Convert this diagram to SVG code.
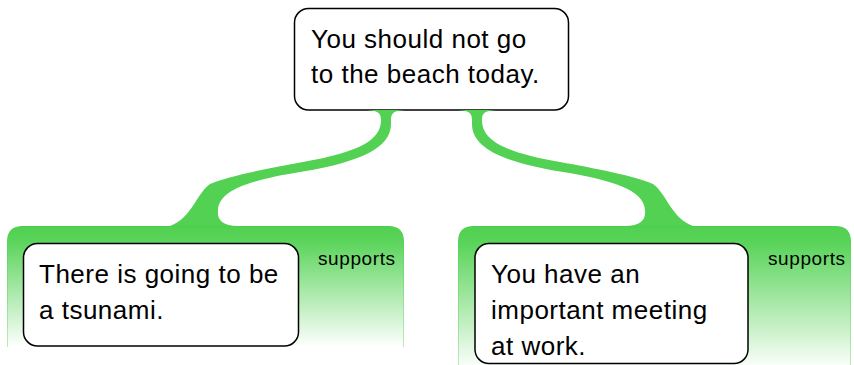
<svg xmlns="http://www.w3.org/2000/svg" width="854" height="365" viewBox="0 0 854 365">
  <defs>
    <linearGradient id="bandL" x1="0" y1="0" x2="0" y2="1">
      <stop offset="0" stop-color="#50d050"/>
      <stop offset="0.12" stop-color="#5ad45a"/>
      <stop offset="1" stop-color="#ffffff"/>
    </linearGradient>
    <linearGradient id="edge" x1="0" y1="0" x2="0" y2="1">
      <stop offset="0" stop-color="#4cce4c"/>
      <stop offset="1" stop-color="#bfeabf"/>
    </linearGradient>
    <path id="conn" d="M361,110 C377,110 381,112 381,120 C381,140 360,152 303,162 C270,168 228,176 210,184 C196,194 192,218 170,226 L238,226 C222,226 217,220 218,210 C219,190 250,180 303,171.5 C360,162 391,148 391,124 L391,120 C391,112 395,110 410,110 Z"/>
  </defs>
  <style>
    .box { fill: #ffffff; stroke: #000000; stroke-width: 1.5; }
    .band { fill: url(#bandL); stroke: url(#edge); stroke-width: 1; }
    .txt { font-family: "Liberation Sans", Arial, sans-serif; font-size: 26px; letter-spacing: 0.5px; fill: #000000; }
    .lbl { font-family: "Liberation Sans", Arial, sans-serif; font-size: 19px; letter-spacing: 0.6px; fill: #000000; }
    .conn { fill: #52d152; }
  </style>

  <g id="band-left">
    <path class="band" d="M7.5,347 L7.5,241 Q7.5,226.5 22,226.5 L389,226.5 Q403.5,226.5 403.5,241 L403.5,347"/>
    <text class="lbl" x="318" y="265">supports</text>
  </g>
  <g id="band-right">
    <path class="band" d="M458.5,370 L458.5,241 Q458.5,226.5 473,226.5 L836,226.5 Q850.5,226.5 850.5,241 L850.5,370"/>
    <text class="lbl" x="768" y="265">supports</text>
  </g>

  <g id="node-claim">
    <rect class="box" x="294.5" y="8.5" width="274" height="101.5" rx="14" ry="14"/>
    <text class="txt" x="311" y="48">You should not go</text>
    <text class="txt" x="311" y="83">to the beach today.</text>
  </g>

  <g id="connectors">
    <use href="#conn" class="conn"/>
    <use href="#conn" class="conn" transform="translate(863,0) scale(-1,1)"/>
  </g>

  <g id="node-tsunami">
    <rect class="box" x="23.5" y="243.5" width="275" height="102.5" rx="14" ry="14"/>
    <text class="txt" x="39" y="283">There is going to be</text>
    <text class="txt" x="39" y="319">a tsunami.</text>
  </g>

  <g id="node-meeting">
    <rect class="box" x="475" y="243.5" width="273" height="120" rx="14" ry="14"/>
    <text class="txt" x="491" y="283">You have an</text>
    <text class="txt" x="491" y="319">important meeting</text>
    <text class="txt" x="491" y="355">at work.</text>
  </g>
</svg>
